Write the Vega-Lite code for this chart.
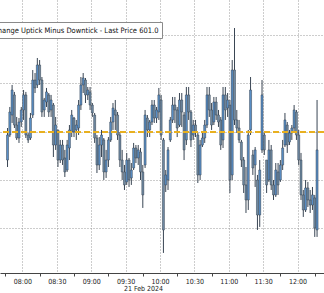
{
 "$schema": "https://vega.github.io/schema/vega-lite/v6.json",
 "width": 324,
 "height": 273,
 "autosize": {"type": "none"},
 "padding": {"left": 0, "top": 0, "right": 0, "bottom": 20},
 "background": "white",
 "config": {
  "view": {"stroke": null},
  "font": "DejaVu Sans Condensed, DejaVu Sans, Liberation Sans, sans-serif"
 },
 "resolve": {"axis": {"x": "independent"}},
 "data": {"values": [
  {"t":"2024-02-21T07:47:00Z","o":706,"h":1036,"l":634,"c":964},
  {"t":"2024-02-21T07:49:00Z","o":964,"h":1253,"l":943,"c":1201},
  {"t":"2024-02-21T07:51:00Z","o":1170,"h":1480,"l":1088,"c":1428},
  {"t":"2024-02-21T07:53:00Z","o":1377,"h":1408,"l":1036,"c":1067},
  {"t":"2024-02-21T07:55:00Z","o":1067,"h":1150,"l":913,"c":933},
  {"t":"2024-02-21T07:57:00Z","o":933,"h":1139,"l":882,"c":1098},
  {"t":"2024-02-21T07:59:00Z","o":1098,"h":1253,"l":1047,"c":1222},
  {"t":"2024-02-21T08:01:00Z","o":1222,"h":1428,"l":1119,"c":1377},
  {"t":"2024-02-21T08:03:00Z","o":1377,"h":1408,"l":933,"c":964},
  {"t":"2024-02-21T08:05:00Z","o":964,"h":985,"l":882,"c":913},
  {"t":"2024-02-21T08:07:00Z","o":933,"h":1191,"l":913,"c":1139},
  {"t":"2024-02-21T08:09:00Z","o":1170,"h":1634,"l":1139,"c":1531},
  {"t":"2024-02-21T08:11:00Z","o":1531,"h":1603,"l":1397,"c":1449},
  {"t":"2024-02-21T08:13:00Z","o":1480,"h":1758,"l":1449,"c":1686},
  {"t":"2024-02-21T08:15:00Z","o":1686,"h":1737,"l":1480,"c":1531},
  {"t":"2024-02-21T08:17:00Z","o":1531,"h":1562,"l":1150,"c":1201},
  {"t":"2024-02-21T08:19:00Z","o":1222,"h":1346,"l":1150,"c":1325},
  {"t":"2024-02-21T08:21:00Z","o":1304,"h":1449,"l":1253,"c":1408},
  {"t":"2024-02-21T08:23:00Z","o":1377,"h":1397,"l":1150,"c":1201},
  {"t":"2024-02-21T08:25:00Z","o":1222,"h":1377,"l":1150,"c":1325},
  {"t":"2024-02-21T08:27:00Z","o":1273,"h":1294,"l":737,"c":861},
  {"t":"2024-02-21T08:29:00Z","o":861,"h":1150,"l":810,"c":1067},
  {"t":"2024-02-21T08:31:00Z","o":1016,"h":1016,"l":634,"c":706},
  {"t":"2024-02-21T08:33:00Z","o":706,"h":913,"l":675,"c":861},
  {"t":"2024-02-21T08:35:00Z","o":861,"h":913,"l":655,"c":706},
  {"t":"2024-02-21T08:37:00Z","o":727,"h":810,"l":531,"c":583},
  {"t":"2024-02-21T08:39:00Z","o":603,"h":913,"l":583,"c":861},
  {"t":"2024-02-21T08:41:00Z","o":830,"h":1067,"l":706,"c":1016},
  {"t":"2024-02-21T08:43:00Z","o":995,"h":1222,"l":943,"c":1170},
  {"t":"2024-02-21T08:45:00Z","o":1139,"h":1150,"l":943,"c":995},
  {"t":"2024-02-21T08:47:00Z","o":1016,"h":1119,"l":913,"c":1067},
  {"t":"2024-02-21T08:49:00Z","o":1036,"h":1325,"l":964,"c":1273},
  {"t":"2024-02-21T08:51:00Z","o":1273,"h":1562,"l":1222,"c":1480},
  {"t":"2024-02-21T08:53:00Z","o":1480,"h":1603,"l":1397,"c":1552},
  {"t":"2024-02-21T08:55:00Z","o":1531,"h":1552,"l":1294,"c":1377},
  {"t":"2024-02-21T08:57:00Z","o":1377,"h":1459,"l":1325,"c":1428},
  {"t":"2024-02-21T08:59:00Z","o":1408,"h":1459,"l":1222,"c":1273},
  {"t":"2024-02-21T09:01:00Z","o":1273,"h":1294,"l":1150,"c":1191},
  {"t":"2024-02-21T09:03:00Z","o":1170,"h":1191,"l":882,"c":933},
  {"t":"2024-02-21T09:05:00Z","o":933,"h":964,"l":572,"c":655},
  {"t":"2024-02-21T09:07:00Z","o":655,"h":943,"l":603,"c":861},
  {"t":"2024-02-21T09:09:00Z","o":861,"h":1016,"l":737,"c":964},
  {"t":"2024-02-21T09:11:00Z","o":913,"h":933,"l":500,"c":583},
  {"t":"2024-02-21T09:13:00Z","o":583,"h":810,"l":521,"c":706},
  {"t":"2024-02-21T09:15:00Z","o":706,"h":943,"l":634,"c":913},
  {"t":"2024-02-21T09:17:00Z","o":913,"h":1150,"l":892,"c":1098},
  {"t":"2024-02-21T09:19:00Z","o":1098,"h":1294,"l":1016,"c":1242},
  {"t":"2024-02-21T09:21:00Z","o":1222,"h":1325,"l":1016,"c":1170},
  {"t":"2024-02-21T09:23:00Z","o":1170,"h":1201,"l":913,"c":964},
  {"t":"2024-02-21T09:25:00Z","o":964,"h":995,"l":634,"c":706},
  {"t":"2024-02-21T09:27:00Z","o":706,"h":810,"l":500,"c":583},
  {"t":"2024-02-21T09:29:00Z","o":583,"h":655,"l":397,"c":449},
  {"t":"2024-02-21T09:31:00Z","o":480,"h":779,"l":449,"c":706},
  {"t":"2024-02-21T09:33:00Z","o":706,"h":727,"l":428,"c":500},
  {"t":"2024-02-21T09:35:00Z","o":521,"h":675,"l":449,"c":603},
  {"t":"2024-02-21T09:37:00Z","o":624,"h":882,"l":603,"c":830},
  {"t":"2024-02-21T09:39:00Z","o":830,"h":861,"l":675,"c":727},
  {"t":"2024-02-21T09:41:00Z","o":727,"h":861,"l":655,"c":810},
  {"t":"2024-02-21T09:43:00Z","o":789,"h":830,"l":500,"c":583},
  {"t":"2024-02-21T09:45:00Z","o":583,"h":655,"l":212,"c":346},
  {"t":"2024-02-21T09:47:00Z","o":655,"h":1222,"l":624,"c":1170},
  {"t":"2024-02-21T09:49:00Z","o":1139,"h":1170,"l":943,"c":1016},
  {"t":"2024-02-21T09:51:00Z","o":1016,"h":1119,"l":943,"c":1098},
  {"t":"2024-02-21T09:53:00Z","o":1098,"h":1325,"l":1067,"c":1273},
  {"t":"2024-02-21T09:55:00Z","o":1273,"h":1325,"l":1088,"c":1139},
  {"t":"2024-02-21T09:57:00Z","o":1139,"h":1253,"l":1088,"c":1222},
  {"t":"2024-02-21T09:59:00Z","o":1201,"h":1449,"l":1119,"c":1377},
  {"t":"2024-02-21T10:01:00Z","o":1325,"h":1377,"l":913,"c":964},
  {"t":"2024-02-21T10:03:00Z","o":913,"h":933,"l":-252,"c":-15},
  {"t":"2024-02-21T10:05:00Z","o":449,"h":603,"l":376,"c":552},
  {"t":"2024-02-21T10:07:00Z","o":500,"h":840,"l":397,"c":810},
  {"t":"2024-02-21T10:09:00Z","o":913,"h":1150,"l":892,"c":1119},
  {"t":"2024-02-21T10:11:00Z","o":1119,"h":1356,"l":1088,"c":1273},
  {"t":"2024-02-21T10:13:00Z","o":1273,"h":1356,"l":1088,"c":1222},
  {"t":"2024-02-21T10:15:00Z","o":1222,"h":1253,"l":943,"c":1036},
  {"t":"2024-02-21T10:17:00Z","o":1067,"h":1397,"l":1047,"c":1325},
  {"t":"2024-02-21T10:19:00Z","o":1325,"h":1397,"l":1047,"c":1201},
  {"t":"2024-02-21T10:21:00Z","o":1170,"h":1201,"l":706,"c":810},
  {"t":"2024-02-21T10:23:00Z","o":913,"h":1459,"l":861,"c":1377},
  {"t":"2024-02-21T10:25:00Z","o":1377,"h":1459,"l":1119,"c":1201},
  {"t":"2024-02-21T10:27:00Z","o":1201,"h":1222,"l":840,"c":913},
  {"t":"2024-02-21T10:29:00Z","o":964,"h":1119,"l":913,"c":1067},
  {"t":"2024-02-21T10:31:00Z","o":1067,"h":1119,"l":943,"c":995},
  {"t":"2024-02-21T10:33:00Z","o":964,"h":985,"l":469,"c":552},
  {"t":"2024-02-21T10:35:00Z","o":552,"h":913,"l":500,"c":861},
  {"t":"2024-02-21T10:37:00Z","o":861,"h":985,"l":840,"c":933},
  {"t":"2024-02-21T10:39:00Z","o":933,"h":1119,"l":882,"c":1067},
  {"t":"2024-02-21T10:41:00Z","o":1067,"h":1459,"l":1036,"c":1377},
  {"t":"2024-02-21T10:43:00Z","o":1377,"h":1459,"l":1150,"c":1222},
  {"t":"2024-02-21T10:45:00Z","o":1222,"h":1294,"l":1016,"c":1067},
  {"t":"2024-02-21T10:47:00Z","o":1098,"h":1356,"l":1067,"c":1304},
  {"t":"2024-02-21T10:49:00Z","o":1304,"h":1356,"l":1119,"c":1170},
  {"t":"2024-02-21T10:51:00Z","o":1170,"h":1222,"l":1047,"c":1098},
  {"t":"2024-02-21T10:53:00Z","o":1119,"h":1150,"l":810,"c":861},
  {"t":"2024-02-21T10:55:00Z","o":913,"h":1459,"l":830,"c":1377},
  {"t":"2024-02-21T10:57:00Z","o":1377,"h":1459,"l":1119,"c":1222},
  {"t":"2024-02-21T10:59:00Z","o":1242,"h":1397,"l":1150,"c":1325},
  {"t":"2024-02-21T11:01:00Z","o":1273,"h":1325,"l":366,"c":500},
  {"t":"2024-02-21T11:03:00Z","o":552,"h":1737,"l":500,"c":1634},
  {"t":"2024-02-21T11:05:00Z","o":1634,"h":2067,"l":1067,"c":1119},
  {"t":"2024-02-21T11:07:00Z","o":1119,"h":1222,"l":985,"c":1036},
  {"t":"2024-02-21T11:09:00Z","o":1036,"h":1119,"l":882,"c":913},
  {"t":"2024-02-21T11:11:00Z","o":892,"h":913,"l":634,"c":706},
  {"t":"2024-02-21T11:13:00Z","o":706,"h":737,"l":366,"c":449},
  {"t":"2024-02-21T11:15:00Z","o":449,"h":634,"l":160,"c":294},
  {"t":"2024-02-21T11:17:00Z","o":294,"h":1016,"l":191,"c":964},
  {"t":"2024-02-21T11:19:00Z","o":1016,"h":1562,"l":964,"c":1428},
  {"t":"2024-02-21T11:21:00Z","o":758,"h":810,"l":552,"c":624},
  {"t":"2024-02-21T11:23:00Z","o":655,"h":840,"l":428,"c":810},
  {"t":"2024-02-21T11:25:00Z","o":500,"h":552,"l":-15,"c":139},
  {"t":"2024-02-21T11:27:00Z","o":139,"h":706,"l":16,"c":603},
  {"t":"2024-02-21T11:29:00Z","o":810,"h":1531,"l":779,"c":1377},
  {"t":"2024-02-21T11:31:00Z","o":964,"h":985,"l":758,"c":810},
  {"t":"2024-02-21T11:33:00Z","o":706,"h":706,"l":366,"c":449},
  {"t":"2024-02-21T11:35:00Z","o":500,"h":913,"l":480,"c":810},
  {"t":"2024-02-21T11:37:00Z","o":810,"h":861,"l":397,"c":449},
  {"t":"2024-02-21T11:39:00Z","o":449,"h":500,"l":294,"c":346},
  {"t":"2024-02-21T11:41:00Z","o":346,"h":675,"l":325,"c":603},
  {"t":"2024-02-21T11:43:00Z","o":583,"h":675,"l":346,"c":449},
  {"t":"2024-02-21T11:45:00Z","o":500,"h":706,"l":480,"c":655},
  {"t":"2024-02-21T11:47:00Z","o":655,"h":913,"l":603,"c":830},
  {"t":"2024-02-21T11:49:00Z","o":861,"h":1191,"l":840,"c":1119},
  {"t":"2024-02-21T11:51:00Z","o":1067,"h":1098,"l":779,"c":861},
  {"t":"2024-02-21T11:53:00Z","o":892,"h":1016,"l":861,"c":985},
  {"t":"2024-02-21T11:55:00Z","o":985,"h":1067,"l":913,"c":1036},
  {"t":"2024-02-21T11:57:00Z","o":1036,"h":1273,"l":995,"c":1222},
  {"t":"2024-02-21T11:59:00Z","o":1201,"h":1222,"l":913,"c":964},
  {"t":"2024-02-21T12:01:00Z","o":964,"h":1016,"l":655,"c":706},
  {"t":"2024-02-21T12:03:00Z","o":706,"h":779,"l":294,"c":346},
  {"t":"2024-02-21T12:05:00Z","o":346,"h":397,"l":119,"c":191},
  {"t":"2024-02-21T12:07:00Z","o":191,"h":500,"l":170,"c":418},
  {"t":"2024-02-21T12:09:00Z","o":418,"h":480,"l":222,"c":294},
  {"t":"2024-02-21T12:11:00Z","o":294,"h":397,"l":160,"c":242},
  {"t":"2024-02-21T12:13:00Z","o":242,"h":428,"l":191,"c":346},
  {"t":"2024-02-21T12:15:00Z","o":315,"h":346,"l":-87,"c":5},
  {"t":"2024-02-21T12:17:00Z","o":-15,"h":1325,"l":-87,"c":810}
 ]},
 "layer": [
  {
   "mark": {"type": "rule", "color": "#3a4654", "strokeWidth": 1},
   "encoding": {
    "x": {
     "field": "t", "type": "temporal",
     "scale": {"type": "utc", "domain": [1708501488000, 1708517922000]},
     "axis": {
      "orient": "bottom",
      "title": null,
      "values": [1708501500000, 1708503300000, 1708505100000, 1708506900000, 1708508700000, 1708510500000, 1708512300000, 1708514100000, 1708515900000, 1708517700000],
      "labels": false,
      "grid": false,
      "domain": true,
      "domainColor": "#444444",
      "ticks": true,
      "tickSize": 3,
      "tickColor": "#444444"
     }
    },
    "y": {
     "field": "l", "type": "quantitative",
     "scale": {"domain": [-459, 2356], "nice": false, "zero": false},
     "axis": {
      "title": null,
      "values": [0, 500, 1000, 1500, 2000],
      "labels": false,
      "ticks": false,
      "domain": false,
      "grid": true,
      "gridColor": "#9a9a9a",
      "gridDash": [1, 2]
     }
    },
    "y2": {"field": "h"}
   }
  },
  {
   "mark": {"type": "bar", "width": 2, "stroke": "#34414f", "strokeWidth": 0.5},
   "encoding": {
    "x": {
     "field": "t", "type": "temporal",
     "axis": {
      "orient": "bottom",
      "title": "21 Feb 2024",
      "values": [1708502400000, 1708504200000, 1708506000000, 1708507800000, 1708509600000, 1708511400000, 1708513200000, 1708515000000, 1708516800000],
      "labelExpr": "utcFormat(datum.value, '%H:%M')",
      "labelOverlap": false,
      "labelFlush": false,
      "labelFontSize": 7,
      "labelColor": "#222222",
      "labelPadding": 4,
      "ticks": false,
      "domain": false,
      "grid": true,
      "gridColor": "#9a9a9a",
      "gridDash": [1, 2],
      "titleFontSize": 7,
      "titleFontWeight": "normal",
      "titleColor": "#222222",
      "titlePadding": 0,
      "titleX": 143
     }
    },
    "y": {"field": "o", "type": "quantitative"},
    "y2": {"field": "c"},
    "fill": {"condition": {"test": "datum.c >= datum.o", "value": "#5a90c8"}, "value": "#6f8aa3"}
   }
  },
  {
   "data": {"values": [{"avg": 995, "series": "Change Uptick Minus Downtick - Last Price 601.0"}]},
   "mark": {"type": "rule", "strokeDash": [6, 3], "strokeWidth": 2},
   "encoding": {
    "y": {"field": "avg", "type": "quantitative"},
    "color": {
     "field": "series", "type": "nominal",
     "scale": {"range": ["#e8b020"]},
     "legend": {
      "title": null,
      "orient": "none",
      "legendX": -26,
      "legendY": 22,
      "symbolType": "stroke",
      "symbolSize": 100,
      "symbolStrokeWidth": 2,
      "labelOffset": 4,
      "padding": 3,
      "fillColor": "white",
      "strokeColor": "#8a8a8a",
      "labelFontSize": 7.5,
      "labelLimit": 400,
      "labelColor": "#111111"
     }
    }
   }
  }
 ]
}
